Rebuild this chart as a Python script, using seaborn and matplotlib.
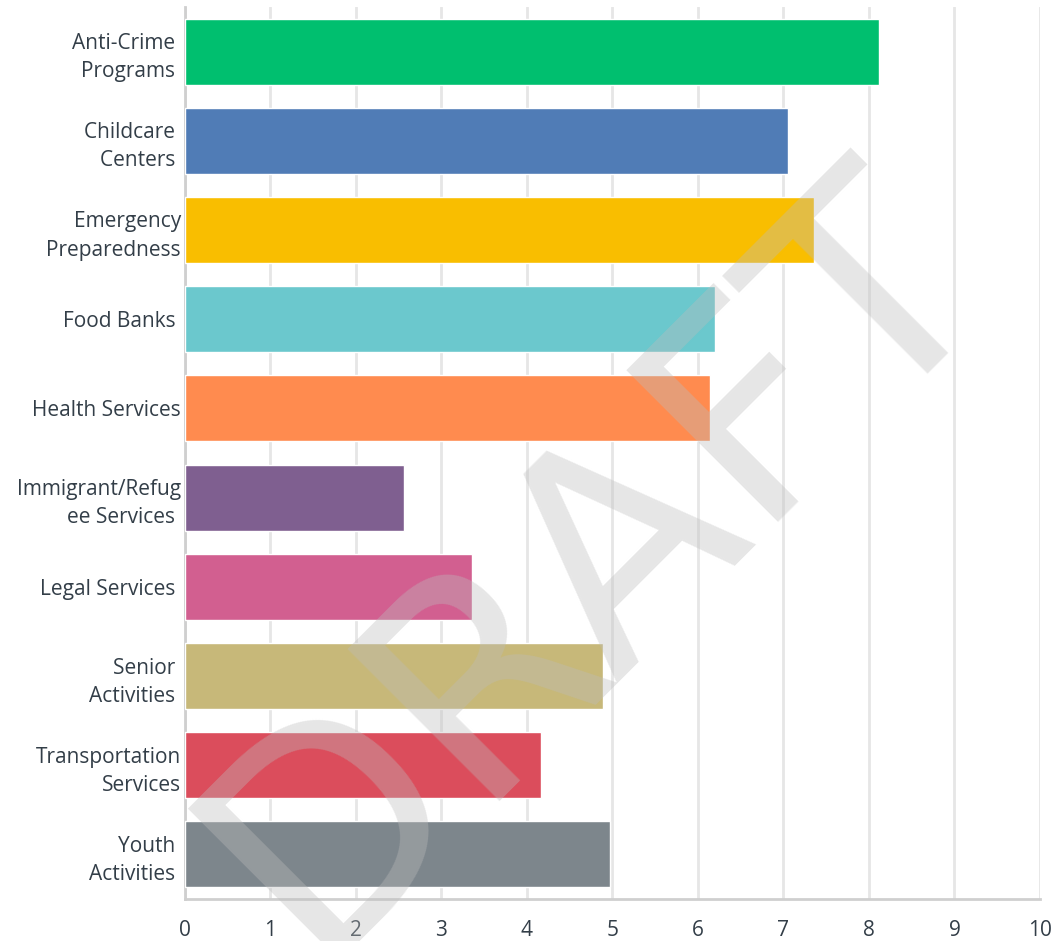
import matplotlib
matplotlib.use("Agg")
import matplotlib.pyplot as plt
import seaborn as sns
import pandas as pd

# chart data
categories = [
    "Anti-Crime \nPrograms ",
    "Childcare \nCenters ",
    "Emergency\nPreparedness",
    "Food Banks ",
    "Health Services",
    "Immigrant/Refug\nee Services ",
    "Legal Services ",
    "Senior \nActivities ",
    "Transportation\nServices",
    "Youth \nActivities ",
]
scores = [8.12, 7.05, 7.36, 6.20, 6.14, 2.56, 3.36, 4.89, 4.16, 4.97]
bar_colors = ["#00bf6f", "#507cb6", "#f9be00", "#6bc8cd", "#ff8b4f",
              "#7f5f90", "#d25f90", "#c7b879", "#db4d5c", "#7d868c"]
x_ticks = list(range(0, 11))

sns.set_theme(style="white")
plt.rcParams['font.family'] = ['Open Sans', 'DejaVu Sans']

df = pd.DataFrame({"category": categories, "score": scores})

fig = plt.figure(figsize=(10.54, 9.41), dpi=100)
ax = fig.add_axes([0.1755, 0.0446, 0.8112, 0.948])

sns.barplot(data=df, x="score", y="category", hue="category",
            palette=bar_colors, saturation=1, width=0.74, legend=False,
            ax=ax, zorder=3)

ax.set_xlim(0, 10)
ax.set_xticks(x_ticks)
ax.set_xlabel("")
ax.set_ylabel("")
ax.grid(axis="x", color="#e6e6e6", linewidth=2, zorder=0)
ax.set_axisbelow(True)

for s in ["top", "right"]:
    ax.spines[s].set_visible(False)
for s in ["left", "bottom"]:
    ax.spines[s].set_color("#cfcfcf")
    ax.spines[s].set_linewidth(2)

ax.tick_params(axis="y", length=0, pad=3, labelsize=15, labelcolor="#333e48")
ax.tick_params(axis="x", length=0, pad=15, labelsize=15, labelcolor="#333e48")
for lbl in ax.get_yticklabels():
    lbl.set_linespacing(1.45)

# watermark
fig.text(0.5640, 0.4030, "DRAFT", rotation=45, fontsize=212,
         color="#bdbdbd", alpha=0.37, ha="center", va="center",
         family="DejaVu Sans", zorder=10)

fig.savefig("out.png", dpi=100)
